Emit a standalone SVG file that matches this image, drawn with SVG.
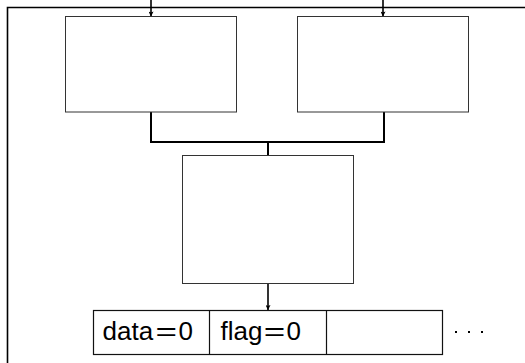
<svg xmlns="http://www.w3.org/2000/svg" width="525" height="363" viewBox="0 0 525 363">
  <style>
    .box { fill: #ffffff; stroke: #333333; stroke-width: 1; }
    .cell { fill: none; stroke: #111111; stroke-width: 1.2; }
    .wire { fill: none; stroke: #000000; stroke-width: 2; }
    .thin { fill: none; stroke: #000000; stroke-width: 1.6; }
    .lbl { font-family: "Liberation Sans", Arial, sans-serif; font-size: 26px; fill: #000000; }
  </style>
  <defs>
    <marker id="tip" viewBox="0 0 10 10" refX="10" refY="5" markerWidth="6" markerHeight="5" markerUnits="userSpaceOnUse" orient="auto">
      <path d="M0,0 L10,5 L0,10 L2,5 z" fill="#000000"/>
    </marker>
  </defs>

  <rect width="525" height="363" fill="#ffffff"/>

  <!-- outer frame -->
  <path class="thin" d="M7.5,363 V7.5 H525"/>

  <g id="connectors">
    <line class="thin" x1="151" y1="0" x2="151" y2="16.5" marker-end="url(#tip)"/>
    <line class="thin" x1="383" y1="0" x2="383" y2="16.5" marker-end="url(#tip)"/>
    <path class="wire" d="M151,112 V142 H384 V112"/>
    <line class="wire" x1="268" y1="142" x2="268" y2="155"/>
    <line class="thin" x1="268" y1="283.5" x2="268" y2="310" marker-end="url(#tip)"/>
  </g>

  <g id="box-left">
    <rect class="box" x="65.5" y="16.5" width="171" height="95.5"/>
  </g>
  <g id="box-right">
    <rect class="box" x="297.5" y="16.5" width="171" height="95.5"/>
  </g>
  <g id="box-middle">
    <rect class="box" x="182.5" y="155.5" width="171" height="128"/>
  </g>

  <g id="memory">
    <rect class="cell" x="93.5" y="310.5" width="349" height="44"/>
    <line class="cell" x1="209.5" y1="310.5" x2="209.5" y2="354.5"/>
    <line class="cell" x1="326.5" y1="310.5" x2="326.5" y2="354.5"/>
    <g class="lbl">
      <text x="102.5" y="339.5">data</text>
      <text x="155.5" y="339.5" textLength="21.5" lengthAdjust="spacingAndGlyphs">=</text>
      <text x="178.5" y="339.5">0</text>
      <text x="220.5" y="339.5">flag</text>
      <text x="263.8" y="339.5" textLength="21.5" lengthAdjust="spacingAndGlyphs">=</text>
      <text x="286.5" y="339.5">0</text>
    </g>
    <g fill="#000000">
      <rect x="455" y="331" width="2" height="2"/>
      <rect x="468" y="331" width="2" height="2"/>
      <rect x="481" y="331" width="2" height="2"/>
    </g>
  </g>
</svg>
